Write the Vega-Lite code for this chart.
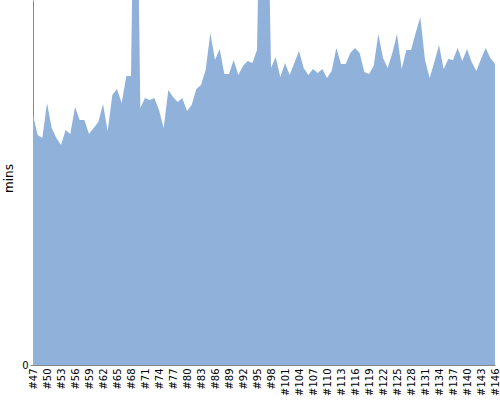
{
  "$schema": "https://vega.github.io/schema/vega-lite/v6.json",
  "width": 462,
  "height": 365,
  "autosize": {"type": "none"},
  "padding": {"left": 33, "top": 0, "right": 5, "bottom": 35},
  "background": "white",
  "config": {
    "view": {"stroke": null},
    "font": "DejaVu Sans"
  },
  "data": {
    "values": [
      {"build": 47, "mins": 50}, {"build": 48, "mins": 46}, {"build": 49, "mins": 45.4},
      {"build": 50, "mins": 52.4}, {"build": 51, "mins": 47.4}, {"build": 52, "mins": 45.4},
      {"build": 53, "mins": 44}, {"build": 54, "mins": 47}, {"build": 55, "mins": 46.2},
      {"build": 56, "mins": 51.6}, {"build": 57, "mins": 49}, {"build": 58, "mins": 49},
      {"build": 59, "mins": 46.2}, {"build": 60, "mins": 47.4}, {"build": 61, "mins": 48.6},
      {"build": 62, "mins": 52.2}, {"build": 63, "mins": 46.8}, {"build": 64, "mins": 54},
      {"build": 65, "mins": 55.2}, {"build": 66, "mins": 52.4}, {"build": 67, "mins": 57.8},
      {"build": 68, "mins": 57.8}, {"build": 69, "mins": 123}, {"build": 70, "mins": 51.4},
      {"build": 71, "mins": 53.4}, {"build": 72, "mins": 53}, {"build": 73, "mins": 53.4},
      {"build": 74, "mins": 51}, {"build": 75, "mins": 47.4}, {"build": 76, "mins": 55},
      {"build": 77, "mins": 53.6}, {"build": 78, "mins": 52.6}, {"build": 79, "mins": 53.4},
      {"build": 80, "mins": 50.8}, {"build": 81, "mins": 52}, {"build": 82, "mins": 55.2},
      {"build": 83, "mins": 56}, {"build": 84, "mins": 59}, {"build": 85, "mins": 66.4},
      {"build": 86, "mins": 61}, {"build": 87, "mins": 63.2}, {"build": 88, "mins": 58.2},
      {"build": 89, "mins": 58.2}, {"build": 90, "mins": 61}, {"build": 91, "mins": 58},
      {"build": 92, "mins": 59.8}, {"build": 93, "mins": 60.8}, {"build": 94, "mins": 60.4},
      {"build": 95, "mins": 63}, {"build": 96, "mins": 113}, {"build": 97, "mins": 113},
      {"build": 98, "mins": 59.4}, {"build": 99, "mins": 61.6}, {"build": 100, "mins": 57.6},
      {"build": 101, "mins": 60.4}, {"build": 102, "mins": 58}, {"build": 103, "mins": 60.4},
      {"build": 104, "mins": 62.8}, {"build": 105, "mins": 59.4}, {"build": 106, "mins": 58},
      {"build": 107, "mins": 59.2}, {"build": 108, "mins": 58.4}, {"build": 109, "mins": 59.2},
      {"build": 110, "mins": 57.4}, {"build": 111, "mins": 58.8}, {"build": 112, "mins": 63.4},
      {"build": 113, "mins": 60.2}, {"build": 114, "mins": 60.2}, {"build": 115, "mins": 62.4},
      {"build": 116, "mins": 63.4}, {"build": 117, "mins": 62.4}, {"build": 118, "mins": 58.6},
      {"build": 119, "mins": 58.2}, {"build": 120, "mins": 59.8}, {"build": 121, "mins": 66.2},
      {"build": 122, "mins": 61.4}, {"build": 123, "mins": 59.4}, {"build": 124, "mins": 62.4},
      {"build": 125, "mins": 66.2}, {"build": 126, "mins": 59.2}, {"build": 127, "mins": 63},
      {"build": 128, "mins": 63}, {"build": 129, "mins": 66.4}, {"build": 130, "mins": 69.6},
      {"build": 131, "mins": 61}, {"build": 132, "mins": 57.4}, {"build": 133, "mins": 60.6},
      {"build": 134, "mins": 64}, {"build": 135, "mins": 59.2}, {"build": 136, "mins": 61.2},
      {"build": 137, "mins": 61}, {"build": 138, "mins": 63.4}, {"build": 139, "mins": 60.8},
      {"build": 140, "mins": 63.2}, {"build": 141, "mins": 60.6}, {"build": 142, "mins": 58.8},
      {"build": 143, "mins": 61.2}, {"build": 144, "mins": 63.4}, {"build": 145, "mins": 61.4},
      {"build": 146, "mins": 60.2}
    ]
  },
  "mark": {"type": "area", "color": "#90b2da", "opacity": 1, "clip": true},
  "encoding": {
    "x": {
      "field": "build",
      "type": "quantitative",
      "scale": {"domain": [47, 146], "nice": false, "zero": false},
      "axis": {
        "title": null,
        "values": [47, 50, 53, 56, 59, 62, 65, 68, 71, 74, 77, 80, 83, 86, 89, 92, 95, 98, 101, 104, 107, 110, 113, 116, 119, 122, 125, 128, 131, 134, 137, 140, 143, 146],
        "labelExpr": "'#' + datum.value",
        "labelAngle": -90,
        "labelFontSize": 10,
        "labelColor": "black",
        "labelPadding": 3,
        "labelOverlap": false,
        "labelBound": false,
        "labelFlush": false,
        "ticks": false,
        "domainColor": "#888888",
        "grid": false
      }
    },
    "y": {
      "field": "mins",
      "type": "quantitative",
      "scale": {"domain": [0, 73], "nice": false},
      "axis": {
        "title": "mins",
        "titleFontWeight": "normal",
        "titleFontSize": 12,
        "titleColor": "black",
        "titlePadding": 6,
        "titleY": 178,
        "values": [0],
        "labelFontSize": 10,
        "labelColor": "black",
        "tickSize": 3,
        "tickColor": "#888888",
        "domainColor": "#888888",
        "grid": false
      }
    }
  }
}
